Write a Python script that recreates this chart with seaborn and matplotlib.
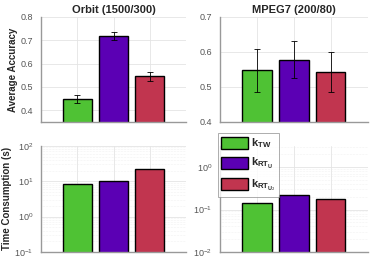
import matplotlib
matplotlib.use('Agg')
import matplotlib.pyplot as plt
import seaborn as sns
import pandas as pd
import numpy as np
from matplotlib.patches import Patch

methods = ['kTW', 'kRTU', 'kRTU2']
legend_labels = [r'$\mathbf{k}_{\mathbf{TW}}$',
                 r'$\mathbf{k}_{\mathbf{RT}_{\mathbf{U}}}$',
                 r'$\mathbf{k}_{\mathbf{RT}_{\mathbf{U}_2}}$']
colors = ['#4fc234', '#5b00b4', '#c1354f']

titles = ['Orbit (1500/300)', 'MPEG7 (200/80)']
acc_orbit = [0.449, 0.717, 0.545]
acc_orbit_err = [0.018, 0.018, 0.019]
acc_mpeg = [0.547, 0.578, 0.543]
acc_mpeg_err = [0.061, 0.053, 0.058]
time_orbit = [8.6, 10.2, 22.5]
time_mpeg = [0.145, 0.215, 0.178]

sns.set_style('whitegrid')
plt.rcParams['font.family'] = ['Liberation Sans', 'DejaVu Sans']
plt.rcParams['mathtext.fontset'] = 'custom'
plt.rcParams['mathtext.bf'] = 'Liberation Sans:bold'

fig = plt.figure(figsize=(3.74, 2.6), dpi=100)
ax1 = fig.add_axes([0.110, 0.531, 0.388, 0.404])
ax2 = fig.add_axes([0.588, 0.531, 0.395, 0.404])
ax3 = fig.add_axes([0.110, 0.031, 0.388, 0.408])
ax4 = fig.add_axes([0.588, 0.031, 0.395, 0.408])

def draw(ax, vals, err=None, log=False):
    df = pd.DataFrame({'method': methods, 'value': vals})
    sns.barplot(data=df, x='method', y='value', hue='method', palette=colors,
                saturation=1, width=0.8, edgecolor='black', linewidth=1.0,
                ax=ax, legend=False, errorbar=None)
    if log:
        ax.set_yscale('log')
    if err is not None:
        ax.errorbar(np.arange(len(vals)), vals, yerr=err, fmt='none',
                    ecolor='black', elinewidth=0.6, capsize=2, capthick=0.6)
    ax.set_xlim(-1, 3)
    ax.set_xticks([-1, 0, 1, 2, 3])
    ax.set_xticklabels([])
    ax.set_xlabel('')
    ax.set_ylabel('')
    ax.tick_params(axis='both', labelsize=6.5, colors='#555555', length=2, width=0.5)
    ax.tick_params(axis='y', which='minor', length=0)
    ax.grid(True, which='major', color='#e4e4e4', linewidth=0.6)
    if log:
        ax.grid(True, which='minor', color='#e8e8e8', linewidth=0.4, linestyle=':')
    for s in ['top', 'right']:
        ax.spines[s].set_visible(False)
    for s in ['left', 'bottom']:
        ax.spines[s].set_color('#999999')
        ax.spines[s].set_linewidth(1.0)
    ax.set_axisbelow(True)

draw(ax1, acc_orbit, acc_orbit_err)
ax1.set_ylim(0.35, 0.8)
ax1.set_yticks([0.4, 0.5, 0.6, 0.7, 0.8])
ax1.set_title(titles[0], fontsize=8, fontweight='bold', pad=3)
ax1.set_ylabel('Average Accuracy', fontsize=7, fontweight='bold', labelpad=2)

draw(ax2, acc_mpeg, acc_mpeg_err)
ax2.set_ylim(0.4, 0.7)
ax2.set_yticks([0.4, 0.5, 0.6, 0.7])
ax2.set_title(titles[1], fontsize=8, fontweight='bold', pad=3)

draw(ax3, time_orbit, log=True)
ax3.set_ylim(0.1, 100)
ax3.set_ylabel('Time Consumption (s)', fontsize=7, fontweight='bold', labelpad=2)

draw(ax4, time_mpeg, log=True)
ax4.set_ylim(0.01, 3.16)
ax4.set_yticks([0.01, 0.1, 1])

handles = [Patch(facecolor=c, edgecolor='black', linewidth=1.0) for c in colors]
leg = ax4.legend(handles, legend_labels, loc='upper left',
                 bbox_to_anchor=(-0.015, 1.12), fontsize=8, frameon=True,
                 fancybox=False, edgecolor='#888888', handlelength=2.4,
                 handleheight=1.3, labelspacing=0.55, borderpad=0.3,
                 handletextpad=0.3, borderaxespad=0)
leg.get_frame().set_linewidth(0.6)

fig.savefig('out.png', dpi=100)
